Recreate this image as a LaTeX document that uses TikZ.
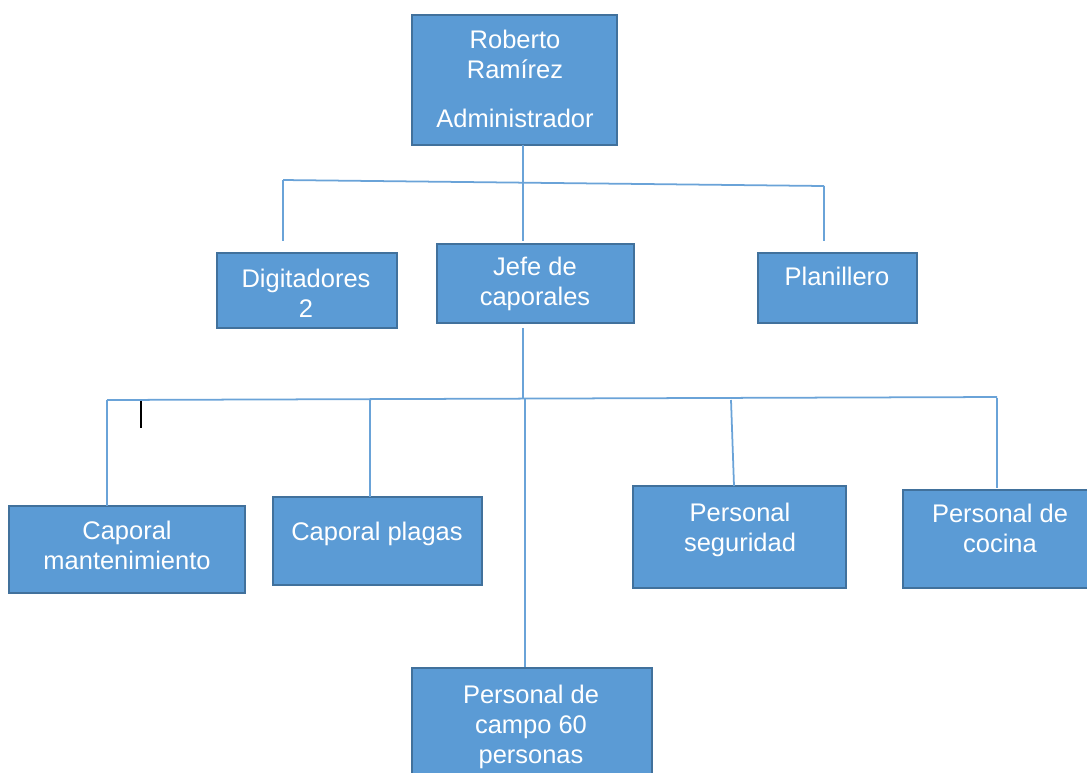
\documentclass[tikz,border=0pt]{standalone}
\usepackage{fontspec}
\setmainfont{Liberation Sans}
\usetikzlibrary{fit}
\definecolor{boxfill}{HTML}{5B9BD5}
\definecolor{boxedge}{HTML}{41719C}
\definecolor{linkcol}{HTML}{6AA3D8}
\tikzset{
  box/.style={draw=boxedge, fill=boxfill, line width=0.8pt, inner sep=0pt, rectangle},
  lbl/.style={text=white, align=center, anchor=base, inner sep=0pt,
              font=\fontsize{14.5}{17}\selectfont},
  link/.style={draw=linkcol, line width=1pt},
}
\begin{document}
\begin{tikzpicture}[x=0.02cm, y=-0.02cm]
\useasboundingbox (0,0) rectangle (1087,772);
% boxes
\node[box, fit={(412,15) (617,145)}] (adm) {};
\node[box, fit={(217,253) (397,328)}] (dig) {};
\node[box, fit={(437,244) (634,323)}] (jefe) {};
\node[box, fit={(758,253) (917,323)}] (plan) {};
\node[box, fit={(9,506) (245,593)}] (cmant) {};
\node[box, fit={(273,497) (482,585)}] (cplag) {};
\node[box, fit={(412,668) (652,800)}] (pcampo) {};
\node[box, fit={(633,486) (846,588)}] (pseg) {};
\node[box, fit={(903,490) (1095,588)}] (pcoc) {};
% labels (base anchor = baseline of the last line)
\node[lbl] (adm-t) at (515,127) {Roberto\\Ramírez\\[10.8pt]Administrador};
\node[lbl] (dig-t) at (306,317) {Digitadores\\2};
\node[lbl] (jefe-t) at (535,305) {Jefe de\\caporales};
\node[lbl] (plan-t) at (837,285) {Planillero};
\node[lbl] (cmant-t) at (127,569) {Caporal\\mantenimiento};
\node[lbl] (cplag-t) at (377,540) {Caporal plagas};
\node[lbl] (pcampo-t) at (531,763) {Personal de\\campo 60\\personas};
\node[lbl] (pseg-t) at (740,551) {Personal\\seguridad};
\node[lbl] (pcoc-t) at (1000,552) {Personal de\\cocina};
% connector coordinates, level 1
\coordinate (a0) at (523,145);
\coordinate (a1) at (523,182.5);
\coordinate (h1l) at (283,180);
\coordinate (h1r) at (824,186);
\coordinate (e-dig) at (283,241);
\coordinate (e-jefe) at (523,241);
\coordinate (e-plan) at (824,241);
% level 2
\coordinate (b0) at (523,328);
\coordinate (b1) at (523,398);
\coordinate (h2l) at (107,400);
\coordinate (h2r) at (997,397);
\coordinate (s-cmant) at (107,400);
\coordinate (e-cmant) at (107,506);
\coordinate (s-cplag) at (370,400);
\coordinate (e-cplag) at (370,497);
\coordinate (s-pcampo) at (525,399);
\coordinate (e-pcampo) at (525,667);
\coordinate (s-pseg) at (731,400);
\coordinate (e-pseg) at (734,486);
\coordinate (s-pcoc) at (997,398);
\coordinate (e-pcoc) at (997,488);
% connectors
\draw[link] (a0) -- (a1);
\draw[link] (h1l) -- (h1r);
\draw[link] (h1l) -- (e-dig);
\draw[link] (a1) -- (e-jefe);
\draw[link] (h1r) -- (e-plan);
\draw[link] (b0) -- (b1);
\draw[link] (h2l) -- (h2r);
\draw[link] (s-cmant) -- (e-cmant);
\draw[link] (s-cplag) -- (e-cplag);
\draw[link] (s-pcampo) -- (e-pcampo);
\draw[link] (s-pseg) -- (e-pseg);
\draw[link] (s-pcoc) -- (e-pcoc);
% text cursor mark
\coordinate (cur1) at (141,401);
\coordinate (cur2) at (141,428);
\draw[black, line width=0.7pt] (cur1) -- (cur2);
\end{tikzpicture}
\end{document}
